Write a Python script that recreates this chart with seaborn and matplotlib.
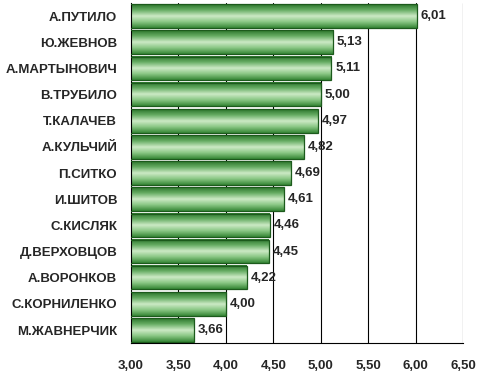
import numpy as np
import pandas as pd
import matplotlib
matplotlib.use('Agg')
import matplotlib.pyplot as plt
import seaborn as sns
from matplotlib.colors import LinearSegmentedColormap

# Data
names = ['А.ПУТИЛО', 'Ю.ЖЕВНОВ', 'А.МАРТЫНОВИЧ', 'В.ТРУБИЛО', 'Т.КАЛАЧЕВ',
         'А.КУЛЬЧИЙ', 'П.СИТКО', 'И.ШИТОВ', 'С.КИСЛЯК', 'Д.ВЕРХОВЦОВ',
         'А.ВОРОНКОВ', 'С.КОРНИЛЕНКО', 'М.ЖАВНЕРЧИК']
scores = [6.01, 5.13, 5.11, 5.00, 4.97, 4.82, 4.69, 4.61, 4.46, 4.45, 4.22, 4.00, 3.66]
x_ticks = [3.0, 3.5, 4.0, 4.5, 5.0, 5.5, 6.0, 6.5]

df = pd.DataFrame({'name': names, 'score': scores})

sns.set_style('white')
plt.rcParams['font.family'] = ['Liberation Sans', 'DejaVu Sans']

fig = plt.figure(figsize=(4.8, 3.75), dpi=100)
ax = fig.add_axes([0.273, 0.085, 0.692, 0.907])

ax = sns.barplot(data=df, x='score', y='name', orient='h', width=0.9,
                 color='#4a9a4a', ax=ax, zorder=2)

ax.set_xlim(x_ticks[0], x_ticks[-1])
ax.set_ylim(len(names) - 0.5, -0.5)
xmin = ax.get_xlim()[0]

# green gradient across bar height
cmap = LinearSegmentedColormap.from_list(
    'bar', ['#2b752b', '#68ae65', '#cdeac6', '#88c683', '#368636'])
grad = np.linspace(0, 1, 64).reshape(-1, 1)
for p in ax.patches:
    x0, y0 = p.get_x(), p.get_y()
    w, h = p.get_width(), p.get_height()
    left = max(x0, xmin)
    ax.imshow(grad, cmap=cmap, aspect='auto', interpolation='bilinear',
              extent=[left, x0 + w, y0 + h, y0], zorder=2.5)
    p.set_facecolor('none')
    p.set_edgecolor('#1c5a1c')
    p.set_linewidth(0.9)
    p.set_zorder(3)
    ax.text(x0 + w + 0.04, y0 + h / 2, f'{w:.2f}'.replace('.', ','),
            va='center', ha='left', fontsize=9.5, fontweight='bold', zorder=4)

ax.set_xlim(x_ticks[0], x_ticks[-1])
ax.set_ylim(len(names) - 0.5, -0.5)

# grid lines
ax.set_xticks(x_ticks)
ax.set_xticklabels([f'{t:.2f}'.replace('.', ',') for t in x_ticks],
                   fontsize=9.5, fontweight='bold')
for t in x_ticks[1:]:
    ax.axvline(t, color='black', lw=0.8, zorder=1)

ax.set_yticks(range(len(names)))
ax.set_yticklabels(names, fontsize=9.5, fontweight='bold')
ax.set_yticks(np.arange(len(names) + 1) - 0.5, minor=True)
ax.tick_params(axis='y', which='major', length=0, pad=10)
ax.tick_params(axis='y', which='minor', length=4, color='#806070', width=0.8)
ax.tick_params(axis='x', length=4, width=0.8, color='black', pad=10, direction='inout')

ax.set_xlabel('')
ax.set_ylabel('')
for s in ['top', 'right']:
    ax.spines[s].set_visible(False)
ax.spines['left'].set_color('black')
ax.spines['bottom'].set_color('black')
ax.spines['left'].set_linewidth(0.8)
ax.spines['bottom'].set_linewidth(0.8)

fig.savefig('out.png', dpi=100, facecolor='white')
